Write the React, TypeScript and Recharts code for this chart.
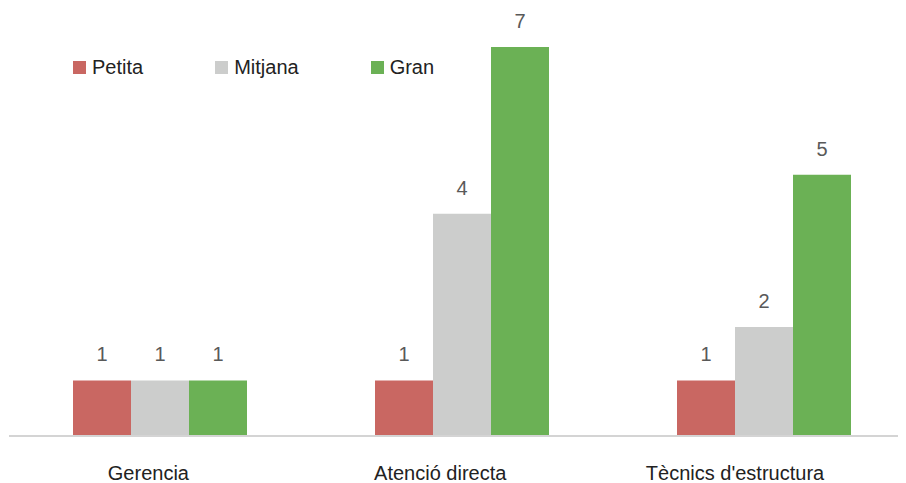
import React from 'react';
import { BarChart, Bar, XAxis, YAxis, Legend, LabelList } from 'recharts';

const categories = ['Gerencia', 'Atenció directa', "Tècnics d'estructura"];
const petita = [1, 1, 1];
const mitjana = [1, 4, 1.96];
const gran = [1, 7, 4.7];

const SERIES = [
  { key: 'Petita', color: '#C96762' },
  { key: 'Mitjana', color: '#CCCDCC' },
  { key: 'Gran', color: '#6BB155' },
];

const data = categories.map((name, i) => ({
  name,
  Petita: petita[i],
  Mitjana: mitjana[i],
  Gran: gran[i],
}));

const FONT = '"Liberation Sans", Arial, sans-serif';

const renderLegend = () => (
  <div style={{ display: 'flex', fontFamily: FONT, fontSize: 20, color: '#222' }}>
    {SERIES.map((s) => (
      <div key={s.key} style={{ display: 'flex', alignItems: 'center', marginRight: 72 }}>
        <span style={{ width: 13, height: 13, background: s.color, marginRight: 6, display: 'inline-block' }} />
        <span>{s.key}</span>
      </div>
    ))}
  </div>
);

// category labels in the source sit a bit left of the bar group centre
const CategoryTick = (props: any) => {
  const { x, y, payload } = props;
  const label: string = payload.value;
  const shift = label.length * 1.45;
  return (
    <text
      x={x - shift}
      y={y}
      dy="0.71em"
      textAnchor="middle"
      fill="#222"
      fontSize={20}
      fontFamily={FONT}
    >
      {label}
    </text>
  );
};

const App: React.FC = () => {
  return (
    <div style={{ width: 898, height: 475, overflow: 'hidden' }}>
      <BarChart
        width={910}
        height={475}
        data={data}
        margin={{ top: 39, right: 3, bottom: 17, left: 1 }}
        barCategoryGap={64}
        barGap={0}
      >
        <XAxis
          dataKey="name"
          axisLine={{ stroke: '#D4D4D4', strokeWidth: 2 }}
          tickLine={false}
          tickMargin={24}
          tick={<CategoryTick />}
          interval={0}
        />
        <YAxis hide domain={[0, 7]} />
        <Legend
          content={renderLegend}
          verticalAlign="middle"
          wrapperStyle={{ top: 48, left: 65, width: 600 }}
        />
        {SERIES.map((s) => (
          <Bar key={s.key} dataKey={s.key} fill={s.color} isAnimationActive={false}>
            <LabelList
              dataKey={s.key}
              position="top"
              offset={19}
              formatter={(v: any) => Math.round(Number(v))}
              style={{ fill: '#595959', fontSize: 20, fontFamily: FONT }}
            />
          </Bar>
        ))}
      </BarChart>
    </div>
  );
};

export default App;
